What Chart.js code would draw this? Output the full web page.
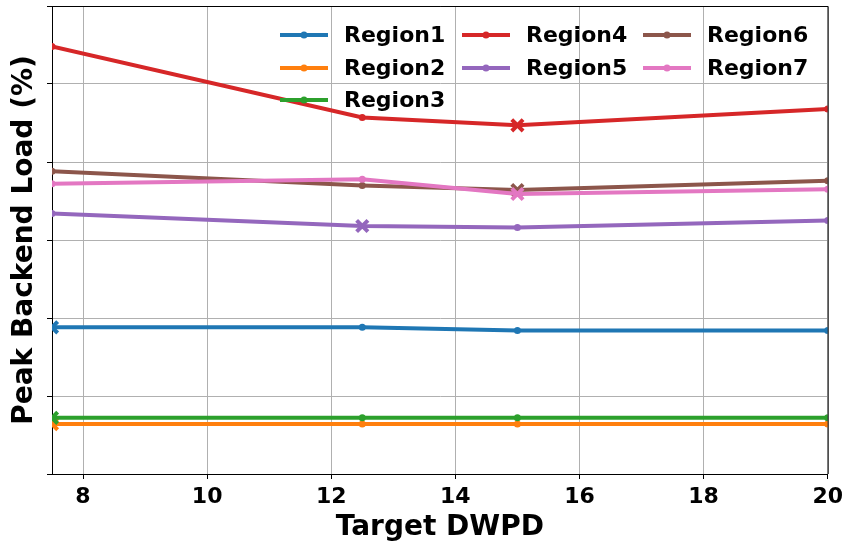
<!DOCTYPE html>
<html>
<head>
<meta charset="utf-8">
<script src="https://cdn.jsdelivr.net/npm/chart.js@4.4.1/dist/chart.umd.min.js"></script>
<style>
  html, body { margin: 0; padding: 0; background: #fff; }
  #wrap { width: 848px; height: 545px; }
</style>
</head>
<body>
<div id="wrap"><canvas id="loadChart" width="848" height="545"></canvas></div>
<script>
// values
const xValues = [7.5, 12.5, 15, 20];
const xTicks = [8, 10, 12, 14, 16, 18, 20];
const yTicks = [0, 10, 20, 30, 40, 50, 60];

const regionNames = ["Region1", "Region2", "Region3", "Region4", "Region5", "Region6", "Region7"];
const region1 = [18.8, 18.8, 18.4, 18.4];
const region2 = [6.4, 6.4, 6.4, 6.4];
const region3 = [7.2, 7.2, 7.2, 7.2];
const region4 = [54.8, 45.7, 44.7, 46.8];
const region5 = [33.4, 31.8, 31.6, 32.5];
const region6 = [38.8, 37.0, 36.4, 37.6];
const region7 = [37.2, 37.8, 35.9, 36.5];
// index of the point drawn with an X marker
const markedPoint = [0, 0, 0, 2, 1, 2, 2];

const colors = ["#1f77b4", "#ff7f0e", "#2ca02c", "#d62728", "#9467bd", "#8c564b", "#e377c2"];
const series = [region1, region2, region3, region4, region5, region6, region7];

const FONT = "'DejaVu Sans', sans-serif";

const datasets = series.map((vals, k) => ({
  label: regionNames[k],
  data: vals.map((v, i) => ({ x: xValues[i], y: v })),
  borderColor: colors[k],
  backgroundColor: colors[k],
  borderWidth: 4,
  tension: 0,
  clip: 0,
  order: 6 - k,
  pointStyle: vals.map((_, i) => (i === markedPoint[k] ? "crossRot" : "circle")),
  pointRadius: vals.map((_, i) => (i === markedPoint[k] ? 8 : 3.5)),
  pointBorderWidth: vals.map((_, i) => (i === markedPoint[k] ? 4 : 0)),
  pointBorderColor: colors[k],
  pointBackgroundColor: colors[k],
}));

// matplotlib-like legend, filled column by column
const columnLegend = {
  id: "columnLegend",
  afterDraw(chart) {
    const ctx = chart.ctx;
    const cols = [[0, 1, 2], [3, 4], [5, 6]];
    const colX = [280, 462, 643];
    const rowY = [35, 68, 100];
    ctx.save();
    ctx.font = "bold 22px " + FONT;
    ctx.textBaseline = "middle";
    ctx.fillStyle = "#000";
    cols.forEach((col, c) => {
      col.forEach((k, r) => {
        const x = colX[c];
        const y = rowY[r];
        ctx.strokeStyle = colors[k];
        ctx.lineWidth = 4;
        ctx.beginPath();
        ctx.moveTo(x, y);
        ctx.lineTo(x + 48, y);
        ctx.stroke();
        ctx.fillStyle = colors[k];
        ctx.beginPath();
        ctx.arc(x + 24, y, 3.5, 0, Math.PI * 2);
        ctx.fill();
        ctx.fillStyle = "#000";
        ctx.fillText(regionNames[k], x + 64, y + 1);
      });
    });
    ctx.restore();
  },
};

// top and right spines
const frame = {
  id: "frame",
  afterDatasetsDraw(chart) {
    const { ctx, chartArea: a } = chart;
    ctx.save();
    ctx.strokeStyle = "#000";
    ctx.lineWidth = 1;
    ctx.beginPath();
    ctx.moveTo(a.left, a.top + 0.5);
    ctx.lineTo(a.right + 0.5, a.top + 0.5);
    ctx.lineTo(a.right + 0.5, a.bottom);
    ctx.stroke();
    ctx.restore();
  },
};

new Chart(document.getElementById("loadChart"), {
  type: "line",
  data: { datasets },
  plugins: [frame, columnLegend],
  options: {
    responsive: false,
    animation: false,
    layout: { autoPadding: false, padding: { top: 6, right: 19, left: 0, bottom: 0 } },
    plugins: { legend: { display: false }, tooltip: { enabled: false } },
    scales: {
      x: {
        type: "linear",
        min: 7.5,
        max: 20,
        afterBuildTicks: (s) => { s.ticks = xTicks.map((v) => ({ value: v })); },
        afterFit: (s) => { s.height = 71; },
        ticks: { color: "#000", padding: 5, font: { family: FONT, size: 22, weight: "bold" } },
        grid: { color: "#b0b0b0", lineWidth: 1, tickColor: "#000", tickLength: 5 },
        border: { color: "#000", width: 1 },
        title: {
          display: true,
          text: "Target DWPD",
          color: "#000",
          padding: { top: 0, bottom: 0 },
          font: { family: FONT, size: 28, weight: "bold" },
        },
      },
      y: {
        min: 0,
        max: 60,
        afterBuildTicks: (s) => { s.ticks = yTicks.map((v) => ({ value: v })); },
        afterFit: (s) => { s.width = 52; },
        ticks: { display: false },
        grid: { color: "#b0b0b0", lineWidth: 1, tickColor: "#000", tickLength: 5 },
        border: { color: "#000", width: 1 },
        title: {
          display: true,
          text: "Peak Backend Load (%)",
          color: "#000",
          padding: { top: 8, bottom: 0 },
          font: { family: FONT, size: 28, weight: "bold" },
        },
      },
    },
  },
});
</script>
</body>
</html>
